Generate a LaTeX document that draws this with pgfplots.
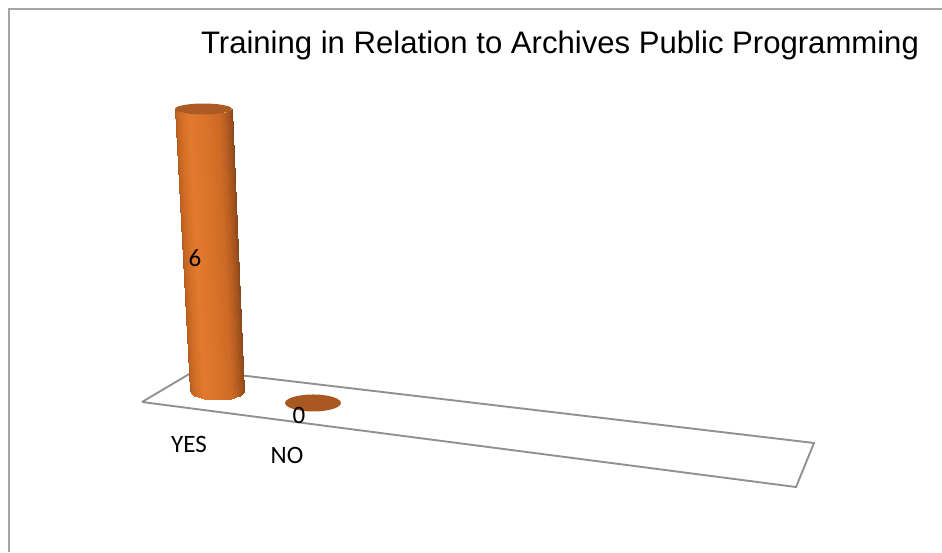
\documentclass[border=0pt]{standalone}
\usepackage{pgfplots}
\pgfplotsset{compat=1.18}
\usepackage{fontspec}
\setmainfont{Liberation Sans}
\newfontfamily\labelfont{Carlito}
\definecolor{floorline}{RGB}{145,145,145}
\definecolor{framegrey}{RGB}{165,165,165}
\definecolor{capbrown}{RGB}{170,90,34}
\definecolor{zerobrown}{RGB}{168,88,32}
\begin{document}
\begin{tikzpicture}[x=1pt,y=1pt]
\useasboundingbox (0,0) rectangle (942,552);
% Vertical axis runs in answer counts: 0 at the floor of the YES column, 6 at its top.
\begin{axis}[
  at={(0,0)}, anchor=south west,
  scale only axis, width=942pt, height=552pt,
  xmin=0, xmax=942, ymin=-3.42553, ymax=8.31915,
  hide axis, clip=false,
  table/row sep=\\,
  colormap={cylinder}{
    rgb255(0)=(176,92,32)
    rgb255(2)=(205,106,36)
    rgb255(4)=(226,122,46)
    rgb255(6)=(218,116,42)
    rgb255(8)=(206,106,38)
    rgb255(10)=(168,86,30)
    rgb255(12)=(136,70,26)
  },
  point meta min=0, point meta max=12,
]
% floor of the chart
\addplot[draw=floorline, line width=1.9pt, line join=miter, fill=white] coordinates {
  (142,-0.234) (796,-2.043) (814,-1.106) (196,0.447) (142,-0.234)
};
% YES column, value 6: the side wall as a shaded mesh, left edge to right edge
\addplot[patch, patch type=rectangle, shader=interp, point meta=explicit,
  patch table={
    0 1 3 2\\ 2 3 5 4\\ 4 5 7 6\\ 6 7 9 8\\ 8 9 11 10\\ 10 11 13 12\\
    12 13 15 14\\ 14 15 17 16\\ 16 17 19 18\\ 18 19 21 20\\ 20 21 23 22\\ 22 23 25 24\\
  }] table[meta=c] {
x y c\\
190.0 0.000 0\\
175.0 6.000 0\\
190.9 -0.050 1\\
176.0 5.973 1\\
193.6 -0.096 2\\
178.8 5.947 2\\
197.9 -0.135 3\\
183.4 5.925 3\\
203.5 -0.166 4\\
189.3 5.908 4\\
210.0 -0.185 5\\
196.1 5.898 5\\
217.0 -0.191 6\\
203.5 5.894 6\\
224.0 -0.185 7\\
210.9 5.898 7\\
230.5 -0.166 8\\
217.8 5.908 8\\
236.1 -0.135 9\\
223.6 5.925 9\\
240.4 -0.096 10\\
228.2 5.947 10\\
243.1 -0.050 11\\
231.0 5.973 11\\
244.0 0.000 12\\
232.0 6.000 12\\
};
% YES column: top cap at value 6
\addplot[fill=capbrown, draw=none] coordinates {
  (232,6) (231,6.030) (228.2,6.059) (223.6,6.083) (217.8,6.101) (210.9,6.113) (203.5,6.117)
  (196.1,6.113) (189.3,6.101) (183.4,6.083) (178.8,6.059) (176,6.030) (175,6)
  (176,5.970) (178.8,5.941) (183.4,5.917) (189.3,5.899) (196.1,5.887) (203.5,5.883)
  (210.9,5.887) (217.8,5.899) (223.6,5.917) (228.2,5.941) (231,5.970) (232,6)
};
% NO column, value 0: only its flat disc shows
\addplot[fill=zerobrown, draw=none] coordinates {
  (341,-0.255) (340,-0.208) (337.2,-0.164) (332.8,-0.127) (327,-0.098) (320.3,-0.080) (313,-0.074)
  (305.7,-0.080) (299,-0.098) (293.2,-0.127) (288.8,-0.164) (286,-0.208) (285,-0.255)
  (286,-0.302) (288.8,-0.346) (293.2,-0.383) (299,-0.412) (305.7,-0.430) (313,-0.436)
  (320.3,-0.430) (327,-0.412) (332.8,-0.383) (337.2,-0.346) (340,-0.302) (341,-0.255)
};
\end{axis}
% outer frame, open on the right and at the bottom
\draw[framegrey, line width=1.2pt] (9,0) -- (9,543) -- (942,543);
\node[anchor=center, inner sep=0pt] at (560,507) {\fontsize{31.1}{37}\selectfont Training in Relation to Archives Public Programming};
\begin{scope}[every node/.style={anchor=center, inner sep=0pt, font=\labelfont\fontsize{25}{30}\selectfont}]
\node at (195,294) {6};
\node at (299,137) {0};
\node at (189,108) {YES};
\node at (287,97) {NO};
\end{scope}
\end{tikzpicture}
\end{document}
